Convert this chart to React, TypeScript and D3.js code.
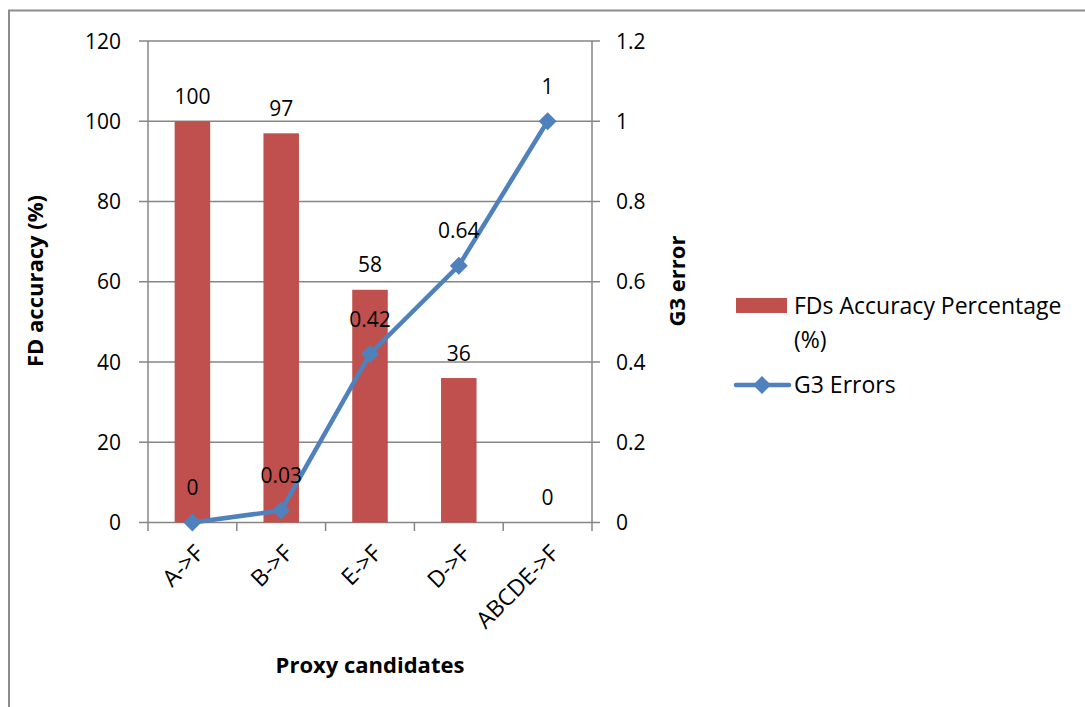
import React from "react";
import * as d3 from "d3";

// Proxy candidates and their measured results
const categories = ["A->F", "B->F", "E->F", "D->F", "ABCDE->F"];
const accuracy = [100, 97, 58, 36, 0];
const g3Errors = [0, 0.03, 0.42, 0.64, 1];
const leftTicks = [0, 20, 40, 60, 80, 100, 120];
const rightTicks = [0, 0.2, 0.4, 0.6, 0.8, 1, 1.2];

const W = 1085;
const H = 707;
const BAR = "#C0504D";
const LINE = "#4F81BD";
const AXIS = "#868686";
const FONT = "'Open Sans', sans-serif";
const FS_NUM = 21;
const FS_TXT = 23;
const FS_TITLE = 22;

export default function App() {
  const x = d3.scaleBand<string>().domain(categories).range([148, 592]);
  const yL = d3.scaleLinear().domain([0, 120]).range([522.5, 41]);
  const yR = d3.scaleLinear().domain([0, 1.2]).range([522.5, 41]);
  const bw = x.bandwidth() * 0.4;
  const cx = (c: string) => (x(c) as number) + x.bandwidth() / 2;

  const linePath = d3
    .line<number>()
    .x((_, i) => cx(categories[i]))
    .y((d) => yR(d))(g3Errors) as string;

  const diamond = (px: number, py: number, r = 9) =>
    `M${px},${py - r}L${px + r},${py}L${px},${py + r}L${px - r},${py}Z`;

  const fmtR = (v: number) => (v === 0 ? "0" : d3.format("~g")(v));

  return (
    <svg
      width={W}
      height={H}
      style={{ position: "absolute", left: 0, top: 0, background: "#fff" }}
      fontFamily={FONT}
    >
      {/* outer frame */}
      <path d={`M9,${H}V10.5H${W}`} fill="none" stroke="#8c8c8c" strokeWidth={2} />

      {/* gridlines */}
      {leftTicks.map((t) => (
        <line key={"g" + t} x1={139} x2={600} y1={yL(t)} y2={yL(t)} stroke={AXIS} strokeWidth={1.3} />
      ))}

      {/* axes */}
      <line x1={148} x2={148} y1={41} y2={522.5} stroke={AXIS} strokeWidth={1.5} />
      <line x1={592} x2={592} y1={41} y2={522.5} stroke={AXIS} strokeWidth={1.5} />
      {categories.concat([""]).map((_, i) => {
        const px = 148 + i * x.step();
        return <line key={"xt" + i} x1={px} x2={px} y1={522.5} y2={531} stroke={AXIS} strokeWidth={1.5} />;
      })}

      {/* left tick labels */}
      {leftTicks.map((t) => (
        <text key={"l" + t} x={121} y={yL(t)} dy="0.36em" textAnchor="end" fontSize={FS_NUM} fill="#000">
          {t}
        </text>
      ))}
      {/* right tick labels */}
      {rightTicks.map((t) => (
        <text key={"r" + t} x={616} y={yR(t)} dy="0.36em" textAnchor="start" fontSize={FS_NUM} fill="#000">
          {fmtR(t)}
        </text>
      ))}

      {/* bars */}
      {categories.map((c, i) => (
        <rect key={"b" + c} x={cx(c) - bw / 2} y={yL(accuracy[i])} width={bw} height={yL(0) - yL(accuracy[i])} fill={BAR} />
      ))}
      {categories.map((c, i) => (
        <text key={"bl" + c} x={cx(c)} y={yL(accuracy[i]) - 25} dy="0.36em" textAnchor="middle" fontSize={FS_NUM} fill="#000">
          {accuracy[i]}
        </text>
      ))}

      {/* error line */}
      <path d={linePath} fill="none" stroke={LINE} strokeWidth={4.5} strokeLinejoin="round" />
      {categories.map((c, i) => (
        <path key={"m" + c} d={diamond(cx(c), yR(g3Errors[i]))} fill={LINE} />
      ))}
      {categories.map((c, i) => (
        <text key={"ll" + c} x={cx(c)} y={yR(g3Errors[i]) - 35} dy="0.36em" textAnchor="middle" fontSize={FS_NUM} fill="#000">
          {fmtR(g3Errors[i])}
        </text>
      ))}

      {/* category labels */}
      {categories.map((c) => {
        const ax = cx(c) + 7;
        const ay = 549;
        return (
          <text
            key={"c" + c}
            x={ax}
            y={ay}
            dy="0.36em"
            textAnchor="end"
            fontSize={FS_TXT}
            fill="#000"
            transform={`rotate(-45,${ax},${ay})`}
          >
            {c}
          </text>
        );
      })}

      {/* axis titles */}
      <text x={370} y={665} dy="0.36em" textAnchor="middle" fontSize={FS_TITLE} fontWeight="bold" fill="#000">
        Proxy candidates
      </text>
      <text
        transform="translate(35,281) rotate(-90)"
        dy="0.36em"
        textAnchor="middle"
        fontSize={FS_TITLE}
        fontWeight="bold"
        fill="#000"
      >
        FD accuracy (%)
      </text>
      <text
        transform="translate(677,281) rotate(-90)"
        dy="0.36em"
        textAnchor="middle"
        fontSize={FS_TITLE}
        fontWeight="bold"
        fill="#000"
      >
        G3 error
      </text>

      {/* legend */}
      <rect x={736} y={298} width={51} height={15} fill={BAR} />
      <text x={794} y={306} dy="0.36em" fontSize={FS_TXT} fill="#000">
        FDs Accuracy Percentage
      </text>
      <text x={794} y={340} dy="0.36em" fontSize={FS_TXT} fill="#000">
        (%)
      </text>
      <line x1={736} x2={789} y1={385} y2={385} stroke={LINE} strokeWidth={4.5} strokeLinecap="round" />
      <path d={diamond(762, 385, 9)} fill={LINE} />
      <text x={794} y={385} dy="0.36em" fontSize={FS_TXT} fill="#000">
        G3 Errors
      </text>
    </svg>
  );
}
